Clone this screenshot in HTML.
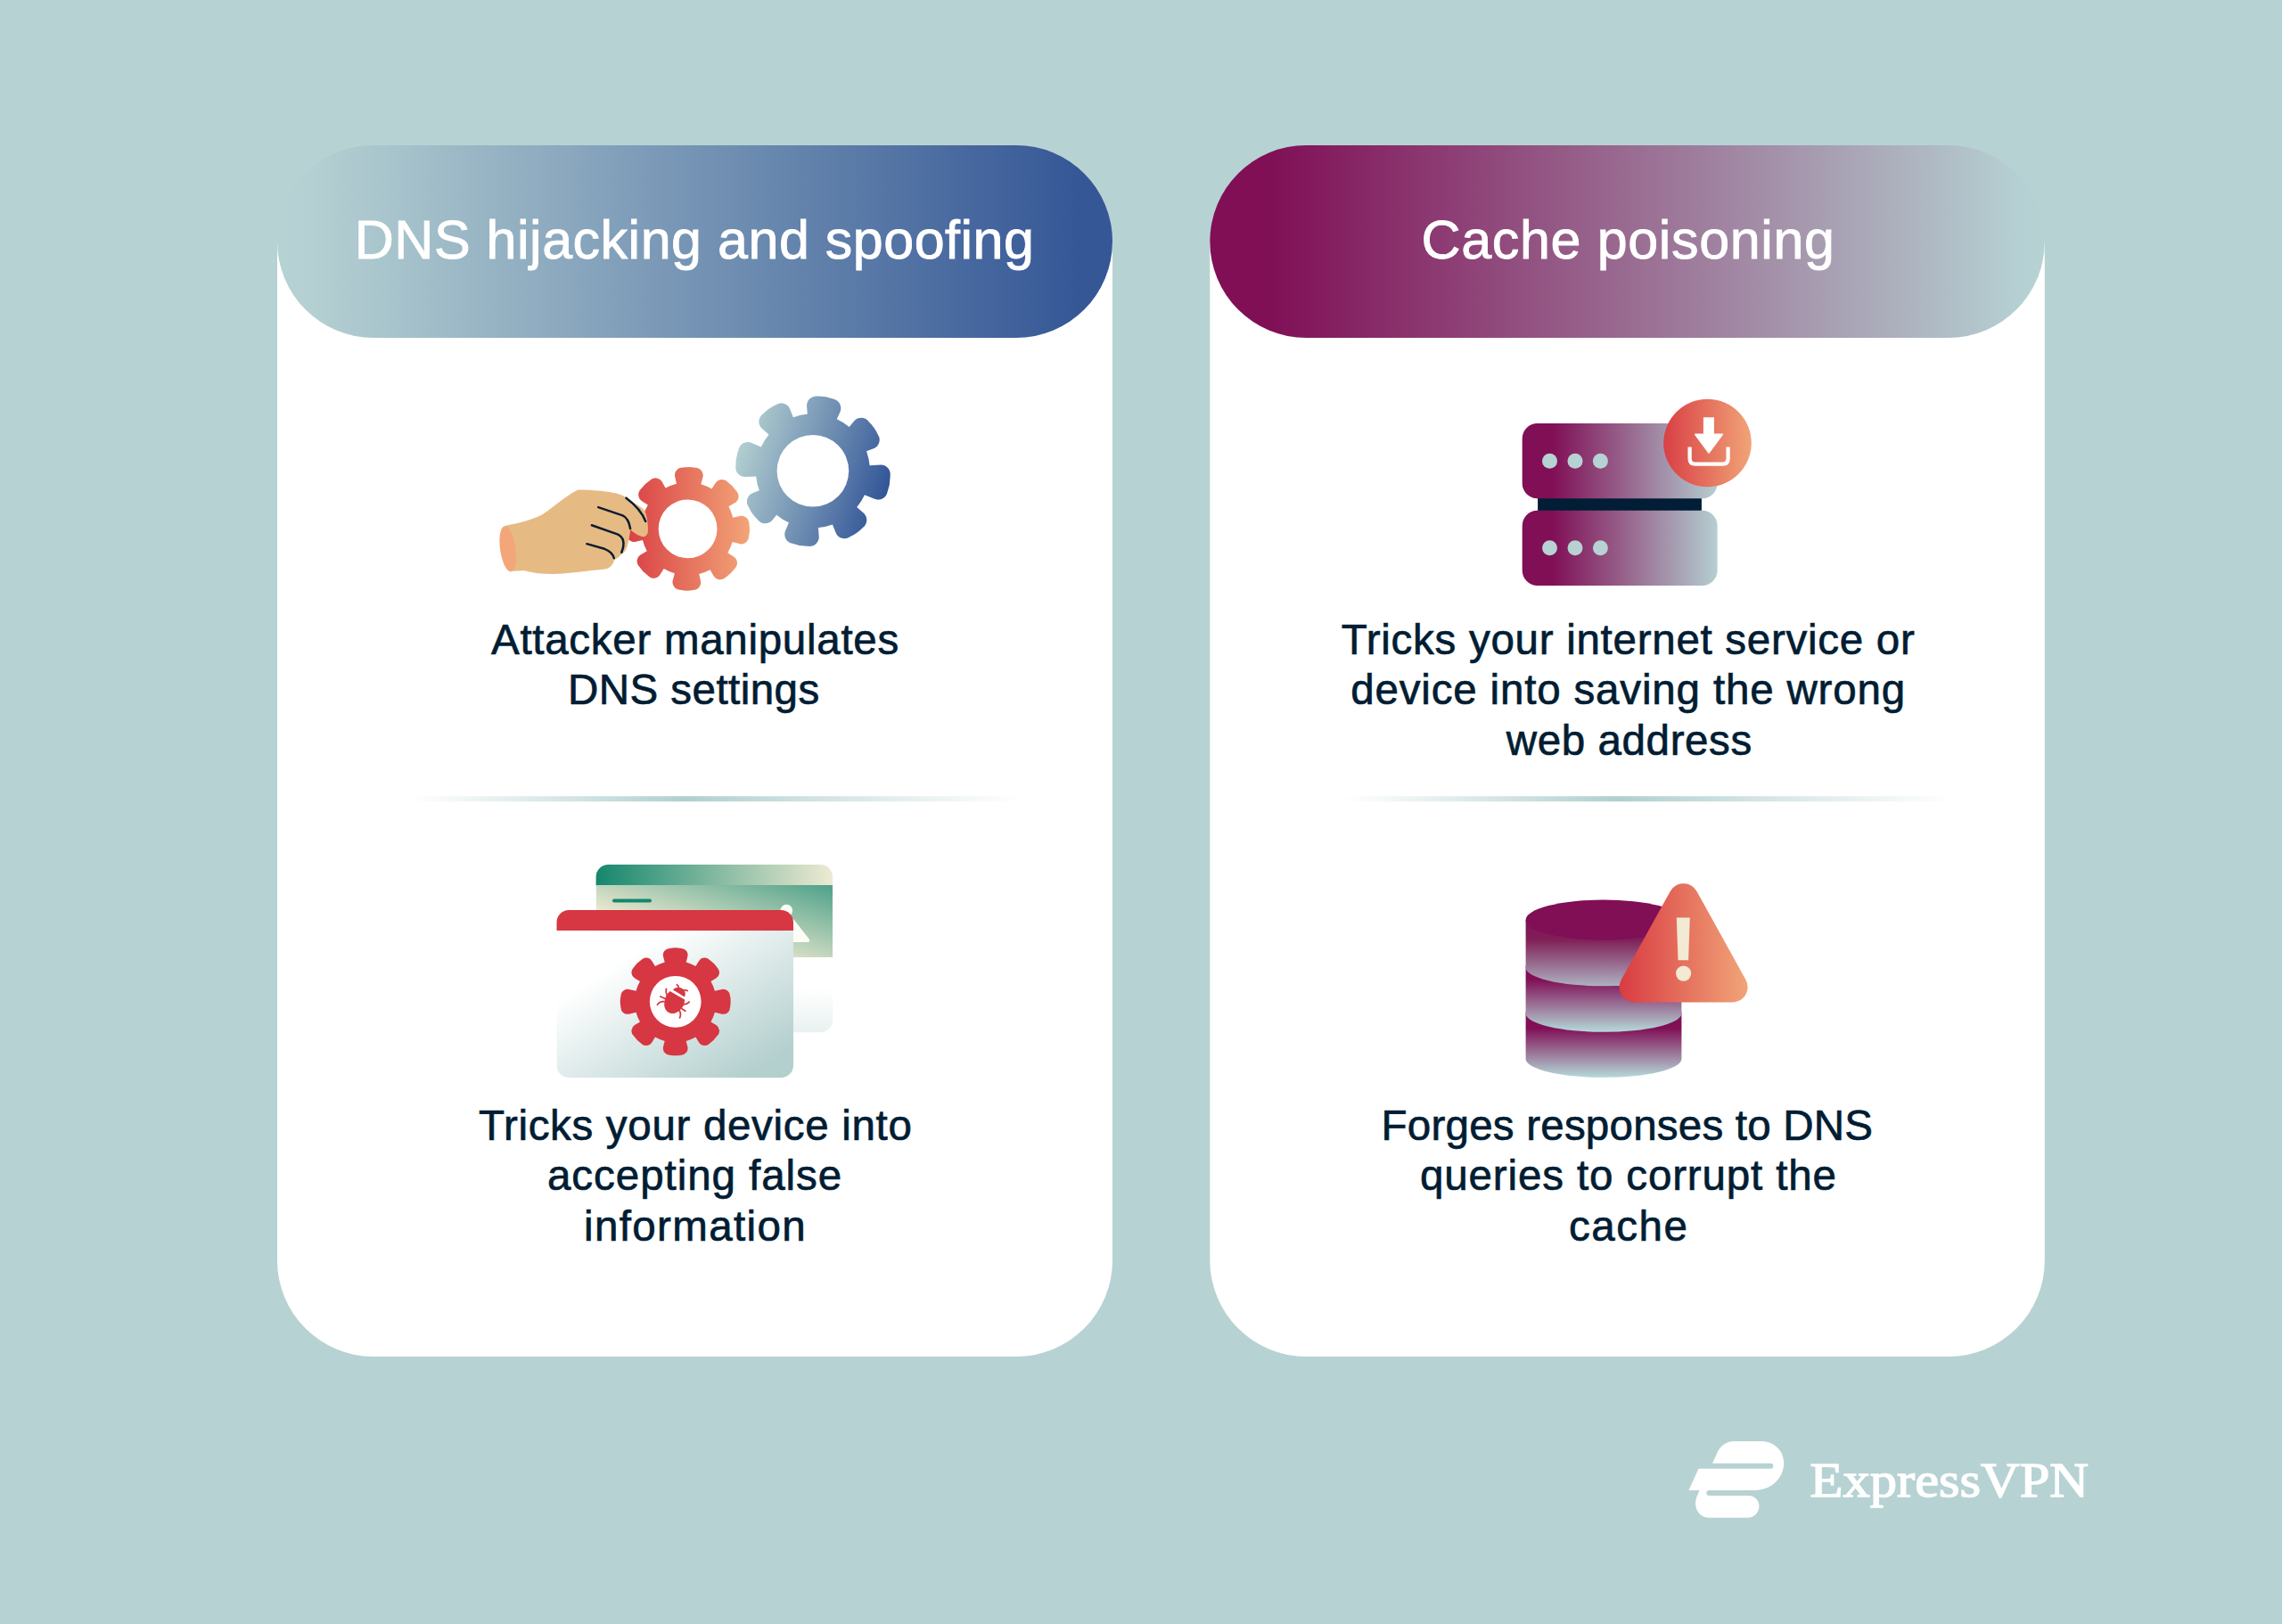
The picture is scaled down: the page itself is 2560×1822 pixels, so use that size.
<!DOCTYPE html>
<html lang="en">
<head>
<meta charset="utf-8">
<title>DNS hijacking and spoofing vs cache poisoning</title>
<style>
html,body{margin:0;padding:0;background:#b7d2d3;}
body{width:2560px;height:1822px;overflow:hidden;}
svg{display:block;}
text{font-kerning:normal;}
</style>
</head>
<body>
<svg width="2560" height="1822" viewBox="0 0 2560 1822">
<defs>
<linearGradient id="gL" x1="311" y1="0" x2="1248" y2="0" gradientUnits="userSpaceOnUse">
<stop offset="0" stop-color="#b7d2d3"/><stop offset="0.04" stop-color="#b5d0d2"/><stop offset="0.96" stop-color="#355796"/><stop offset="1" stop-color="#355796"/>
</linearGradient>
<linearGradient id="gR" x1="1357" y1="0" x2="2294" y2="0" gradientUnits="userSpaceOnUse">
<stop offset="0" stop-color="#800f56"/><stop offset="0.07" stop-color="#800f56"/><stop offset="0.97" stop-color="#b5d0d2"/><stop offset="1" stop-color="#b7d2d3"/>
</linearGradient>
<linearGradient id="gDiv" x1="0" y1="0" x2="1" y2="0">
<stop offset="0" stop-color="#b7d2d3" stop-opacity="0"/><stop offset="0.45" stop-color="#b1cfcf" stop-opacity="1"/><stop offset="1" stop-color="#b7d2d3" stop-opacity="0"/>
</linearGradient>
<linearGradient id="gBlue" x1="826" y1="500" x2="998" y2="556" gradientUnits="userSpaceOnUse">
<stop offset="0" stop-color="#b5d1d1"/><stop offset="1" stop-color="#2f5296"/>
</linearGradient>
<linearGradient id="gRed" x1="704" y1="0" x2="841" y2="0" gradientUnits="userSpaceOnUse">
<stop offset="0" stop-color="#d94045"/><stop offset="1" stop-color="#f2a577"/>
</linearGradient>
<linearGradient id="gSrv" x1="1708" y1="0" x2="1927" y2="0" gradientUnits="userSpaceOnUse">
<stop offset="0" stop-color="#800f56"/><stop offset="0.15" stop-color="#800f56"/><stop offset="1" stop-color="#b4cfd1"/>
</linearGradient>
<linearGradient id="gBadge" x1="1866" y1="0" x2="1965" y2="0" gradientUnits="userSpaceOnUse">
<stop offset="0" stop-color="#d93f45"/><stop offset="1" stop-color="#f1a477"/>
</linearGradient>
<linearGradient id="gWarn" x1="1816" y1="0" x2="1961" y2="0" gradientUnits="userSpaceOnUse">
<stop offset="0" stop-color="#d93b42"/><stop offset="1" stop-color="#f1a578"/>
</linearGradient>
<linearGradient id="gD1" x1="0" y1="1032" x2="0" y2="1107" gradientUnits="userSpaceOnUse">
<stop offset="0" stop-color="#800f56"/><stop offset="0.3" stop-color="#812058"/><stop offset="1" stop-color="#adb4c2"/>
</linearGradient>
<linearGradient id="gD2" x1="0" y1="1084" x2="0" y2="1158" gradientUnits="userSpaceOnUse">
<stop offset="0" stop-color="#800f56"/><stop offset="0.2" stop-color="#800f56"/><stop offset="1" stop-color="#b5dada"/>
</linearGradient>
<linearGradient id="gD3" x1="0" y1="1135" x2="0" y2="1209" gradientUnits="userSpaceOnUse">
<stop offset="0" stop-color="#800f56"/><stop offset="0.25" stop-color="#800f56"/><stop offset="1" stop-color="#b5dada"/>
</linearGradient>
<linearGradient id="gBT" x1="669" y1="0" x2="934" y2="0" gradientUnits="userSpaceOnUse">
<stop offset="0" stop-color="#15876d"/><stop offset="1" stop-color="#eeead2"/>
</linearGradient>
<linearGradient id="gBB" x1="0" y1="1" x2="1" y2="0">
<stop offset="0" stop-color="#f1ebd2"/><stop offset="0.3" stop-color="#f1ebd2"/><stop offset="1" stop-color="#4fa189"/>
</linearGradient>
<linearGradient id="gBW" x1="0" y1="1074" x2="0" y2="1158" gradientUnits="userSpaceOnUse">
<stop offset="0" stop-color="#ffffff"/><stop offset="0.4" stop-color="#ffffff"/><stop offset="1" stop-color="#e9f1f1"/>
</linearGradient>
<linearGradient id="gFW" x1="0" y1="0" x2="1" y2="1">
<stop offset="0" stop-color="#ffffff"/><stop offset="0.24" stop-color="#ffffff"/><stop offset="0.9" stop-color="#b3cfce"/><stop offset="1" stop-color="#b3cfce"/>
</linearGradient>
<clipPath id="cBack"><rect x="668.6" y="970" width="265.5" height="188.2" rx="14" ry="14"/></clipPath>
<clipPath id="cFront"><rect x="624.5" y="1020.9" width="265.5" height="188.3" rx="14" ry="14"/></clipPath>
</defs>

<rect width="2560" height="1822" fill="#b7d2d3"/>

<!-- cards -->
<path d="M311 271H1248V1414A108 108 0 0 1 1140 1522H419A108 108 0 0 1 311 1414Z" fill="#fff"/>
<path d="M1357.3 271H2293.8V1414A108 108 0 0 1 2185.8 1522H1465.3A108 108 0 0 1 1357.3 1414Z" fill="#fff"/>
<rect x="311" y="163" width="937" height="216" rx="108" ry="108" fill="url(#gL)"/>
<rect x="1357.3" y="163" width="936.5" height="216" rx="108" ry="108" fill="url(#gR)"/>

<!-- dividers -->
<rect x="460" y="893.2" width="686" height="6" rx="3" fill="url(#gDiv)"/>
<rect x="1506" y="893.2" width="686" height="6" rx="3" fill="url(#gDiv)"/>

<!-- gears + hand -->
<path d="M905.8 464.59L905.08 455.82A10.5 10.5 0 0 1 917.31 444.62Q926.26 444.32 934.59 447.57A10.5 10.5 0 0 1 942.41 462.21L938.82 470.24A64 64 0 0 1 952.63 478.94L958.08 472.47A10.5 10.5 0 0 1 974.68 473.16Q981.19 479.24 984.76 487.4A10.5 10.5 0 0 1 979.9 503.28L971.99 506.28A64 64 0 0 1 975.61 522.2L987.71 521.56A10.5 10.5 0 0 1 998.61 533.82Q998.84 543.16 995.52 551.9A10.5 10.5 0 0 1 981.17 559.84L969.96 555.22A64 64 0 0 1 961.26 569.03L968.68 575.45A10.5 10.5 0 0 1 967.88 591.96Q961.65 598.57 953.35 602.24A10.5 10.5 0 0 1 937.51 597.52L933.92 588.39A64 64 0 0 1 918 592.01L918.71 601.67A10.5 10.5 0 0 1 906.47 612.79Q897.41 613.07 888.95 609.8A10.5 10.5 0 0 1 881.1 595.25L884.98 586.36A64 64 0 0 1 871.17 577.66L866.44 583.4A10.5 10.5 0 0 1 849.76 582.79Q843.34 576.84 839.86 568.81A10.5 10.5 0 0 1 844.82 552.88L851.81 550.32A64 64 0 0 1 848.19 534.4L836.31 535.05A10.5 10.5 0 0 1 825.39 522.79Q825.16 513.47 828.47 504.76A10.5 10.5 0 0 1 842.84 496.83L853.84 501.38A64 64 0 0 1 862.54 487.57L854.97 480.99A10.5 10.5 0 0 1 855.78 464.5Q862.03 457.87 870.36 454.18A10.5 10.5 0 0 1 886.19 458.89L889.88 468.21A64 64 0 0 1 905.8 464.59ZM952.2 528.3A40.3 40.3 0 1 0 871.6 528.3A40.3 40.3 0 1 0 952.2 528.3Z" fill="url(#gBlue)"/>
<path d="M822.25 580.66L829.98 578.92A8.5 8.5 0 0 1 840.34 587.39Q841.68 594.77 840.03 602.08A8.5 8.5 0 0 1 829.32 610.11L821.67 608.05A52.2 52.2 0 0 1 816.35 620.17L823.05 624.41A8.5 8.5 0 0 1 824.38 637.73Q820.12 643.9 813.78 647.9A8.5 8.5 0 0 1 800.53 646L796.58 639.14A52.2 52.2 0 0 1 784.24 643.95L785.98 651.68A8.5 8.5 0 0 1 777.51 662.04Q770.13 663.38 762.82 661.73A8.5 8.5 0 0 1 754.79 651.02L756.85 643.37A52.2 52.2 0 0 1 744.73 638.05L740.49 644.75A8.5 8.5 0 0 1 727.17 646.08Q721 641.82 717 635.48A8.5 8.5 0 0 1 718.9 622.23L725.76 618.28A52.2 52.2 0 0 1 720.95 605.94L713.22 607.68A8.5 8.5 0 0 1 702.86 599.21Q701.52 591.83 703.17 584.52A8.5 8.5 0 0 1 713.88 576.49L721.53 578.55A52.2 52.2 0 0 1 726.85 566.43L720.15 562.19A8.5 8.5 0 0 1 718.82 548.87Q723.08 542.7 729.42 538.7A8.5 8.5 0 0 1 742.67 540.6L746.62 547.46A52.2 52.2 0 0 1 758.96 542.65L757.22 534.92A8.5 8.5 0 0 1 765.69 524.56Q773.07 523.22 780.38 524.87A8.5 8.5 0 0 1 788.41 535.58L786.35 543.23A52.2 52.2 0 0 1 798.47 548.55L802.71 541.85A8.5 8.5 0 0 1 816.03 540.52Q822.2 544.78 826.2 551.12A8.5 8.5 0 0 1 824.3 564.37L817.44 568.32A52.2 52.2 0 0 1 822.25 580.66ZM804.5 593.3A32.9 32.9 0 1 0 738.7 593.3A32.9 32.9 0 1 0 804.5 593.3Z" fill="url(#gRed)"/>
<g transform="translate(550 510) scale(0.13146)">
<path d="M125 608C260 585 400 545 470 495C560 430 660 345 740 305C760 296 900 305 1000 318C1080 328 1130 345 1160 368C1230 420 1290 440 1315 475C1340 520 1350 620 1345 665C1335 695 1315 705 1295 700C1260 690 1225 665 1195 640C1190 700 1175 770 1160 805C1150 830 1135 845 1118 850C1100 875 1080 890 1058 897C1050 935 1020 975 975 978C900 985 760 1005 600 1018C480 1022 380 1015 300 992C260 990 220 994 180 996Z" fill="#e6ba83"/>
<ellipse cx="150" cy="804" rx="66" ry="196" transform="rotate(-8 152 804)" fill="#f2a679"/>
<g fill="none" stroke="#0b1d30" stroke-width="19" stroke-linecap="round" stroke-linejoin="round">
<path d="M1160 370C1240 430 1300 500 1325 570"/>
<path d="M922 450L1130 520C1175 540 1188 590 1195 632"/>
<path d="M866 603L1085 680C1140 705 1150 760 1120 835"/>
<path d="M824 762L975 805C1025 825 1048 850 1056 885"/>
</g>
</g>

<!-- browser windows -->
<g clip-path="url(#cBack)">
<rect x="668" y="969" width="267" height="24.5" fill="url(#gBT)"/>
<rect x="668.6" y="993" width="265.5" height="81" fill="url(#gBB)"/>
<rect x="668" y="1074" width="267" height="85" fill="url(#gBW)"/>
<rect x="687" y="1008.6" width="44" height="3.8" rx="1.9" fill="#15876d"/>
<circle cx="882.3" cy="1021.6" r="6.8" fill="#fdfdf8"/>
<path d="M880 1031L890 1031L908 1054Q909 1057 906 1057L880 1057Z" fill="#fdfdf8"/>
</g>
<g clip-path="url(#cFront)">
<rect x="624" y="1020" width="267" height="24.2" fill="#d63742"/>
<rect x="624.5" y="1044.1" width="265.5" height="165.1" fill="url(#gFW)"/>
</g>
<circle cx="757.7" cy="1123.8" r="30" fill="#fff"/>
<path d="M801.9 1111.8L809.79 1109.95A7.5 7.5 0 0 1 819 1117.26Q820.3 1123.8 819 1130.34A7.5 7.5 0 0 1 809.79 1137.65L801.9 1135.8A45.8 45.8 0 0 1 797.44 1146.57L803.34 1150.11A7.5 7.5 0 0 1 804.79 1161.85Q801.19 1167.29 795.75 1170.89A7.5 7.5 0 0 1 784.01 1169.44L780.47 1163.54A45.8 45.8 0 0 1 769.7 1168L771.32 1174.35A7.5 7.5 0 0 1 764.05 1183.7Q757.7 1185 751.35 1183.7A7.5 7.5 0 0 1 744.08 1174.35L745.7 1168A45.8 45.8 0 0 1 734.93 1163.54L731.39 1169.44A7.5 7.5 0 0 1 719.65 1170.89Q714.21 1167.29 710.61 1161.85A7.5 7.5 0 0 1 712.06 1150.11L717.96 1146.57A45.8 45.8 0 0 1 713.5 1135.8L705.61 1137.65A7.5 7.5 0 0 1 696.4 1130.34Q695.1 1123.8 696.4 1117.26A7.5 7.5 0 0 1 705.61 1109.95L713.5 1111.8A45.8 45.8 0 0 1 717.96 1101.03L712.06 1097.49A7.5 7.5 0 0 1 710.61 1085.75Q714.21 1080.31 719.65 1076.71A7.5 7.5 0 0 1 731.39 1078.16L734.93 1084.06A45.8 45.8 0 0 1 745.7 1079.6L744.08 1073.25A7.5 7.5 0 0 1 751.35 1063.9Q757.7 1062.6 764.05 1063.9A7.5 7.5 0 0 1 771.32 1073.25L769.7 1079.6A45.8 45.8 0 0 1 780.47 1084.06L784.01 1078.16A7.5 7.5 0 0 1 795.75 1076.71Q801.19 1080.31 804.79 1085.75A7.5 7.5 0 0 1 803.34 1097.49L797.44 1101.03A45.8 45.8 0 0 1 801.9 1111.8ZM786.6 1123.8A28.9 28.9 0 1 0 728.8 1123.8A28.9 28.9 0 1 0 786.6 1123.8Z" fill="#d63742"/>
<g transform="translate(728 1094) scale(0.036941)" fill="#d63742">
<path d="M640 490L1085 745C1085 800 1075 850 1058 890C1040 940 1020 975 992 1010C960 1055 925 1085 885 1110C830 1145 775 1165 720 1165C660 1165 600 1145 560 1110C510 1065 480 1010 470 950C462 890 466 820 480 760C492 700 515 640 545 595C575 550 605 515 640 490Z"/>
<path d="M730 445C750 420 775 405 800 395C830 380 865 370 900 370C935 372 970 385 1000 402C1035 422 1060 450 1080 482C1095 510 1105 545 1105 580C1102 610 1092 638 1075 660Z"/>
<g fill="none" stroke="#d63742" stroke-width="48" stroke-linecap="round" stroke-linejoin="round">
<path d="M900 375C900 345 880 310 848 288"/>
<path d="M1060 462C1100 452 1140 460 1168 476"/>
<path d="M545 600C515 540 512 470 526 415"/>
<path d="M480 710L348 648"/>
<path d="M462 802C380 795 300 830 256 900"/>
<path d="M1060 890C1125 885 1185 860 1224 816"/>
<path d="M1000 1022L1104 1090"/>
<path d="M930 1082C965 1150 965 1230 936 1298"/>
</g>
</g>

<!-- server -->
<rect x="1725.1" y="555" width="183.8" height="22" fill="#021d36"/>
<rect x="1707.7" y="474.9" width="218.9" height="84.4" rx="17" fill="url(#gSrv)"/>
<rect x="1707.7" y="572.8" width="218.9" height="84.2" rx="17" fill="url(#gSrv)"/>
<g fill="#b7d2d3">
<circle cx="1738.5" cy="517.3" r="8.5"/><circle cx="1767" cy="517.3" r="8.5"/><circle cx="1795.4" cy="517.3" r="8.5"/>
<circle cx="1738.5" cy="614.7" r="8.5"/><circle cx="1767" cy="614.7" r="8.5"/><circle cx="1795.4" cy="614.7" r="8.5"/>
</g>
<circle cx="1915.5" cy="497" r="49.3" fill="url(#gBadge)"/>
<path d="M1910.9 468.2H1922.9V486.6H1932.2Q1933.6 486.8 1932.8 488L1917.6 508.6Q1917 509.3 1916.4 508.6L1901.2 488Q1900.4 486.8 1901.8 486.6H1910.9Z" fill="#fff"/>
<path d="M1895.6 501.6V514.5Q1895.6 520.7 1901.8 520.7H1932.4Q1938.6 520.7 1938.6 514.5V501.6" fill="none" stroke="#fff" stroke-width="4.3"/>

<!-- database -->
<path d="M1711.6 1135.2V1188A87.4 20.8 0 0 0 1886.4 1188V1135.2Z" fill="url(#gD3)"/>
<path d="M1711.6 1083.7V1137A87.4 20.8 0 0 0 1886.4 1137V1083.7Z" fill="url(#gD2)"/>
<path d="M1711.6 1032.1V1085.5A87.4 20.8 0 0 0 1886.4 1085.5V1032.1Z" fill="url(#gD1)"/>
<ellipse cx="1799" cy="1032.1" rx="87.4" ry="22.6" fill="#800f56"/>
<path d="M1888.6 1008.2L1833.6 1107.4H1943.6Z" fill="url(#gWarn)" stroke="url(#gWarn)" stroke-width="34" stroke-linejoin="round"/>
<path d="M1880.8 1029.5H1895.8L1894.1 1077.2H1882.5Z" fill="#f2ead3"/>
<circle cx="1888.6" cy="1092.1" r="8.6" fill="#f2ead3"/>

<!-- logo -->
<g transform="translate(1880 1600) scale(0.073877)">
<path d="M555 565L640 380C690 285 780 230 880 230L1290 230C1490 230 1640 370 1640 560C1640 790 1450 975 1200 975L505 975A41 41 0 0 0 505 1057L1100 1057C1200 1057 1265 1130 1265 1215C1265 1310 1190 1392 1090 1392L510 1392C380 1392 298 1290 298 1170C298 1110 330 1040 360 975L195 975L345 645L1440 645A40 40 0 0 0 1440 565Z" fill="#fff"/>
</g>

<text x="397.80" y="290.0" font-family='"Liberation Sans", sans-serif' font-size="61" fill="#fff" stroke="#fff" stroke-width="0.9" textLength="762.20" lengthAdjust="spacing">DNS hijacking and spoofing</text>
<text x="1594.60" y="290.0" font-family='"Liberation Sans", sans-serif' font-size="61" fill="#fff" stroke="#fff" stroke-width="0.9" textLength="463.40" lengthAdjust="spacing">Cache poisoning</text>
<text x="551.00" y="733.7" font-family='"Liberation Sans", sans-serif' font-size="47.5" fill="#021d33" stroke="#021d33" stroke-width="0.7" textLength="457.20" lengthAdjust="spacing">Attacker manipulates</text>
<text x="637.00" y="789.8" font-family='"Liberation Sans", sans-serif' font-size="47.5" fill="#021d33" stroke="#021d33" stroke-width="0.7" textLength="282.20" lengthAdjust="spacing">DNS settings</text>
<text x="537.00" y="1278.7" font-family='"Liberation Sans", sans-serif' font-size="47.5" fill="#021d33" stroke="#021d33" stroke-width="0.7" textLength="485.80" lengthAdjust="spacing">Tricks your device into</text>
<text x="614.00" y="1335.1" font-family='"Liberation Sans", sans-serif' font-size="47.5" fill="#021d33" stroke="#021d33" stroke-width="0.7" textLength="330.20" lengthAdjust="spacing">accepting false</text>
<text x="655.00" y="1392.0" font-family='"Liberation Sans", sans-serif' font-size="47.5" fill="#021d33" stroke="#021d33" stroke-width="0.7" textLength="248.60" lengthAdjust="spacing">information</text>
<text x="1504.80" y="733.8" font-family='"Liberation Sans", sans-serif' font-size="47.5" fill="#021d33" stroke="#021d33" stroke-width="0.7" textLength="643.00" lengthAdjust="spacing">Tricks your internet service or</text>
<text x="1515.20" y="789.8" font-family='"Liberation Sans", sans-serif' font-size="47.5" fill="#021d33" stroke="#021d33" stroke-width="0.7" textLength="622.00" lengthAdjust="spacing">device into saving the wrong</text>
<text x="1689.80" y="846.7" font-family='"Liberation Sans", sans-serif' font-size="47.5" fill="#021d33" stroke="#021d33" stroke-width="0.7" textLength="275.40" lengthAdjust="spacing">web address</text>
<text x="1549.60" y="1279.1" font-family='"Liberation Sans", sans-serif' font-size="47.5" fill="#021d33" stroke="#021d33" stroke-width="0.7" textLength="551.40" lengthAdjust="spacing">Forges responses to DNS</text>
<text x="1593.00" y="1335.1" font-family='"Liberation Sans", sans-serif' font-size="47.5" fill="#021d33" stroke="#021d33" stroke-width="0.7" textLength="467.00" lengthAdjust="spacing">queries to corrupt the</text>
<text x="1760.00" y="1392.1" font-family='"Liberation Sans", sans-serif' font-size="47.5" fill="#021d33" stroke="#021d33" stroke-width="0.7" textLength="132.80" lengthAdjust="spacing">cache</text>
<text x="2030.60" y="1678.5" font-family='"Liberation Serif", serif' font-size="55.5" fill="#fff" stroke="#fff" stroke-width="1.4" textLength="312.40" lengthAdjust="spacingAndGlyphs">ExpressVPN</text>
</svg>
</body>
</html>
